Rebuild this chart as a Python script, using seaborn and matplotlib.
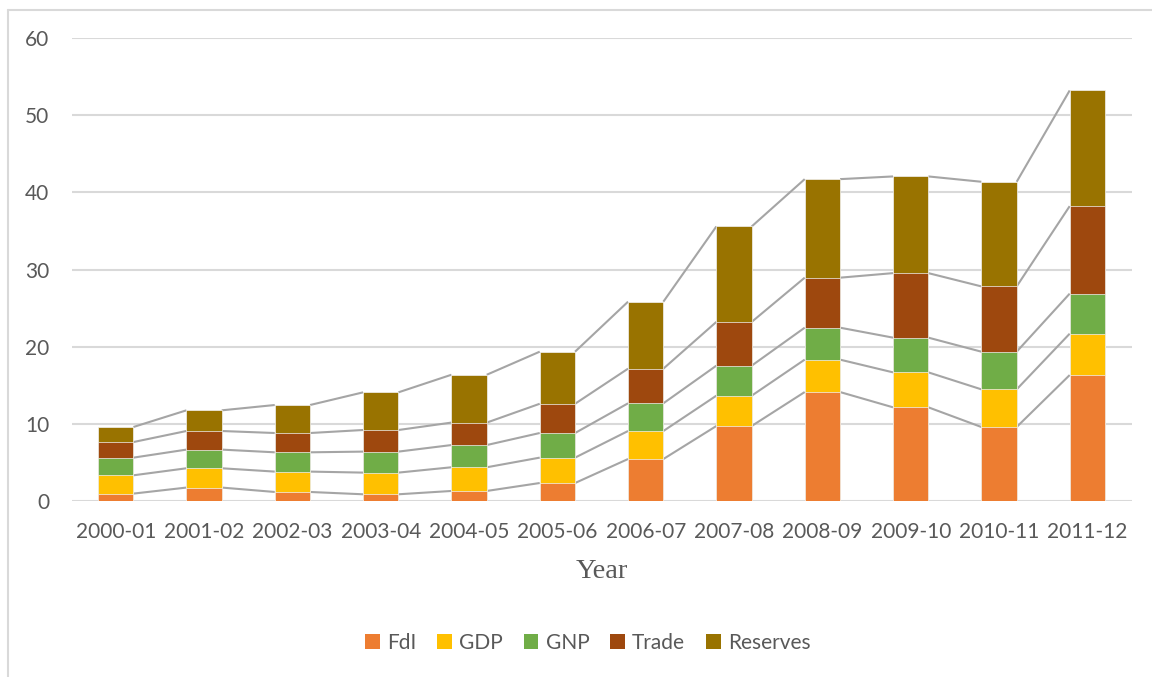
import numpy as np
import pandas as pd
import matplotlib
matplotlib.use("Agg")
import matplotlib.pyplot as plt
from matplotlib.lines import Line2D
from matplotlib.patches import Patch
import seaborn as sns

years = ["2000-01", "2001-02", "2002-03", "2003-04", "2004-05", "2005-06",
         "2006-07", "2007-08", "2008-09", "2009-10", "2010-11", "2011-12"]
fdi = [0.96, 1.74, 1.17, 0.87, 1.30, 2.33, 5.44, 9.72, 14.12, 12.14, 9.59, 16.32]
gdp = [2.37, 2.50, 2.64, 2.81, 3.07, 3.29, 3.63, 3.93, 4.20, 4.53, 4.88, 5.36]
gnp = [2.29, 2.42, 2.50, 2.72, 2.88, 3.19, 3.59, 3.89, 4.14, 4.50, 4.88, 5.19]
trade = [2.02, 2.41, 2.50, 2.80, 2.91, 3.79, 4.49, 5.67, 6.48, 8.36, 8.46, 11.34]
reserves = [1.95, 2.68, 3.63, 4.88, 6.20, 6.75, 8.68, 12.37, 12.77, 12.53, 13.56, 14.99]

series_names = ["FdI", "GDP", "GNP", "Trade", "Reserves"]
series_values = [fdi, gdp, gnp, trade, reserves]
colors = ["#ED7D31", "#FFC000", "#70AD47", "#9E480E", "#997300"]
y_ticks = [0, 10, 20, 30, 40, 50, 60]

sns.set_theme(style="white")
plt.rcParams["font.family"] = ["Lato", "DejaVu Sans"]

W, H = 1152, 677
fig = plt.figure(figsize=(W / 100, H / 100), dpi=100)
ax = fig.add_axes([71.6 / W, 1 - 501 / H, (1131.5 - 71.6) / W, (501 - 38) / H])

cums = np.cumsum(np.array(series_values), axis=0)
bw = 0.40

# draw tallest cumulative first so lower layers overlay
for k in range(len(series_names) - 1, -1, -1):
    df = pd.DataFrame({"Year": years, "val": cums[k]})
    sns.barplot(data=df, x="Year", y="val", color=colors[k], saturation=1,
                width=bw, ax=ax, edgecolor="#F2F2F2", linewidth=0.5, zorder=3)

# series lines connecting segment tops
for k in range(len(series_names)):
    for i in range(len(years) - 1):
        ax.plot([i + bw / 2, i + 1 - bw / 2], [cums[k][i], cums[k][i + 1]],
                color="#A5A5A5", lw=1.5, zorder=2, solid_capstyle="butt")

ax.set_ylim(0, 60)
ax.set_xlim(-0.5, len(years) - 0.5)
ax.set_yticks(y_ticks)
ax.yaxis.grid(True, color="#D9D9D9", lw=1.5, zorder=0)
ax.set_axisbelow(True)
for s in ax.spines.values():
    s.set_visible(False)
ax.tick_params(axis="both", length=0, labelsize=15, colors="#595959")
ax.tick_params(axis="y", pad=16)
ax.tick_params(axis="x", pad=15)
ax.set_ylabel("")
ax.set_xlabel("Year", fontsize=20.5, color="#595959", family=["Liberation Serif", "DejaVu Serif"])
ax.xaxis.set_label_coords(0.5, (501 - 571) / 463)
ax.xaxis.label.set_va("center")

handles = [Patch(facecolor=c, edgecolor="none", label=n) for c, n in zip(colors, series_names)]
fig.legend(handles=handles, loc="center", bbox_to_anchor=(588 / W, 1 - 643 / H), ncol=5,
           frameon=False, fontsize=15, handlelength=0.7, handleheight=0.7,
           handletextpad=0.35, columnspacing=1.0, labelcolor="#595959")

# chart area border (top and left visible)
fig.add_artist(Line2D([8 / W, 1], [1 - 10 / H, 1 - 10 / H], color="#D9D9D9", lw=1.5,
                      transform=fig.transFigure))
fig.add_artist(Line2D([8 / W, 8 / W], [0, 1 - 10 / H], color="#D9D9D9", lw=1.5,
                      transform=fig.transFigure))

fig.savefig("out.png", dpi=100, facecolor="white")
